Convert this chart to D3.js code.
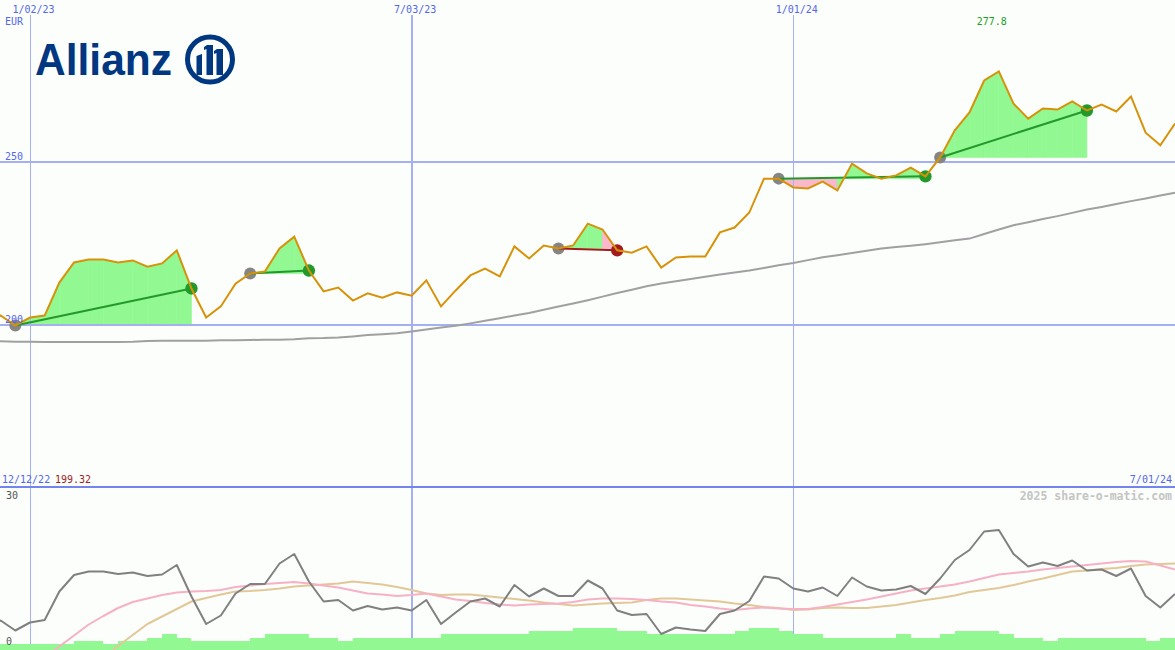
<!DOCTYPE html>
<html><head><meta charset="utf-8">
<script src="https://cdn.jsdelivr.net/npm/d3@7"></script>
<style>html,body{margin:0;padding:0;background:#fbfefb;overflow:hidden}svg{display:block}</style>
</head><body><svg id="c" width="1175" height="650"></svg>
<script>
// ---- data ----
const startDate = "2022-12-12", endDate = "2024-07-01";
const prices = [
  199.32, 202.9, 199.85, 202.3, 202.9, 213.0, 219.2, 220.1, 220.1, 219.2,
  219.8, 217.9, 218.9, 222.9, 211.2, 202.3, 205.7, 212.7, 215.8, 216.4,
  223.5, 227.1, 216.7, 210.3, 211.5, 207.5, 209.7, 208.4, 210.0, 209.0,
  213.7, 205.7, 210.6, 215.2, 217.3, 214.9, 224.1, 220.4, 224.4, 223.5,
  224.4, 231.1, 229.3, 222.9, 222.2, 224.1, 217.6, 220.7, 221.0, 221.0,
  228.4, 229.9, 234.5, 244.9, 244.9, 242.2, 241.9, 244.0, 241.3, 249.5,
  246.5, 244.9, 245.9, 248.3, 245.6, 251.4, 259.7, 265.2, 275.0, 277.8,
  267.9, 263.3, 266.4, 266.1, 268.6, 265.8, 267.6, 265.5, 270.1, 259.0,
  255.1, 261.8];
const movingAvg = [
  195.1, 195.0, 194.9, 194.9, 194.8, 194.8, 194.8, 194.8, 194.8, 194.8,
  194.9, 195.1, 195.2, 195.2, 195.2, 195.2, 195.3, 195.3, 195.4, 195.5,
  195.5, 195.6, 195.9, 196.0, 196.2, 196.5, 196.9, 197.2, 197.5, 198.0,
  198.6, 199.2, 199.8, 200.5, 201.3, 202.1, 202.9, 203.7, 204.7, 205.7,
  206.6, 207.6, 208.7, 209.8, 210.8, 211.9, 212.7, 213.4, 214.1, 214.8,
  215.5, 216.1, 216.7, 217.5, 218.3, 219.0, 219.9, 220.8, 221.4, 222.1,
  222.8, 223.5, 223.9, 224.3, 224.8, 225.4, 226.0, 226.5, 227.9, 229.3,
  230.6, 231.5, 232.5, 233.4, 234.4, 235.4, 236.2, 237.1, 238.0, 238.8,
  239.7, 240.6];
const oscGray = [
  3.5, 4.9, 2.9, 4.5, 5.0, 10.7, 14.0, 14.7, 14.7, 14.2,
  14.5, 13.8, 14.1, 16.0, 9.7, 4.2, 5.9, 10.3, 12.2, 12.2,
  16.3, 18.2, 12.7, 8.7, 9.0, 6.9, 7.8, 7.1, 7.5, 6.9,
  9.0, 4.2, 6.5, 8.7, 9.3, 7.7, 12.0, 9.7, 11.3, 9.8,
  9.8, 12.9, 11.3, 6.9, 6.0, 6.2, 2.2, 3.5, 3.1, 2.8,
  6.2, 6.9, 8.8, 13.7, 13.3, 11.3, 10.7, 11.5, 9.8, 13.5,
  11.7, 10.9, 11.1, 11.8, 10.2, 13.3, 17.0, 19.0, 22.7, 23.0,
  18.2, 15.7, 16.5, 15.8, 16.9, 14.9, 15.1, 13.8, 15.3, 9.8,
  7.5, 10.2];
const oscPink = [
  -11, -9, -7, -4.8, -2.6, -0.3, 1.9, 4.1, 5.8, 7.4,
  8.6, 9.3, 10.0, 10.5, 10.7, 10.8, 11.0, 11.6, 11.9, 12.2,
  12.4, 12.6, 12.3, 11.9, 11.5, 10.9, 10.3, 10.1, 9.8, 10.0,
  10.3, 9.7, 9.1, 8.8, 8.4, 8.1, 7.9, 8.1, 8.2, 8.3,
  8.6, 9.1, 9.3, 9.3, 9.2, 9.0, 8.7, 8.5, 8.0, 7.7,
  7.3, 7.0, 7.3, 7.5, 7.3, 7.2, 7.2, 7.6, 8.1, 8.6,
  9.1, 9.7, 10.3, 10.9, 11.3, 11.7, 12.1, 12.7, 13.4, 14.1,
  14.4, 14.7, 15.1, 15.4, 15.7, 16.0, 16.3, 16.6, 16.8, 16.7,
  15.9, 15.1];
const oscTan = [
  -20, -18, -16, -13.7, -11.5, -9.2, -7, -4.7, -2.5, -0.2,
  2.0, 4.2, 5.7, 7.2, 8.7, 9.4, 10.1, 10.7, 10.8, 11.0,
  11.3, 11.7, 11.9, 12.1, 12.3, 12.7, 12.4, 12.1, 11.6, 11.0,
  10.3, 10.0, 10.1, 10.1, 9.8, 9.5, 9.2, 8.9, 8.5, 8.2,
  7.9, 8.1, 8.3, 8.4, 8.5, 9.0, 9.3, 9.3, 9.1, 8.9,
  8.7, 8.3, 8.0, 7.6, 7.4, 7.0, 7.1, 7.4, 7.5, 7.4,
  7.4, 7.7, 8.0, 8.5, 9.0, 9.4, 9.9, 10.6, 11.0, 11.4,
  12.0, 12.7, 13.3, 14.0, 14.7, 14.9, 15.2, 15.4, 15.8, 16.1,
  16.2, 16.3];
const volume = [
  2, 2, 2, 2, 2, 2, 3, 3, 2, 3,
  3, 4, 5, 4, 3, 3, 3, 3, 4, 5,
  5, 5, 4, 4, 3, 4, 4, 4, 4, 4,
  4, 5, 5, 5, 5, 5, 5, 6, 6, 6,
  7, 7, 7, 6, 6, 5, 5, 5, 5, 5,
  5, 6, 7, 7, 6, 5, 5, 4, 4, 4,
  4, 4, 5, 4, 4, 5, 6, 6, 6, 5,
  4, 4, 3, 4, 4, 4, 4, 4, 4, 3,
  4, 4];
const tickDates = ["2023-01-02", "2023-07-03", "2024-01-01"];
const tickLabels = ["1/02/23", "7/03/23", "1/01/24"];
const priceTicks = [200, 250];
const lowerTicks = [0, 30];
const tradeBuys  = ["2022-12-26", "2023-04-17", "2023-09-11", "2023-12-25", "2024-03-11"];
const tradeSells = ["2023-03-20", "2023-05-15", "2023-10-09", "2024-03-04", "2024-05-20"];

// ---- setup ----
const parse = d3.utcParse("%Y-%m-%d");
const fmt = d3.utcFormat("%-m/%d/%y");
const dates = d3.utcMonday.range(parse(startDate), d3.utcDay.offset(parse(endDate), 1));
const idxOf = s => dates.findIndex(d => +d === +parse(s));

const W = 1175, H = 650;
const x = d3.scaleUtc().domain([parse(startDate), parse(endDate)]).range([-14.04, 1175]);
const y = d3.scaleLinear().domain([200, 250]).range([325, 162]);
const yl = d3.scaleLinear().domain([0, 30]).range([645, 495]);
const yv = d3.scaleLinear().domain([0, 10]).range([650.4, 618.4]);

const C = {
  bg: "#fbfefb", grid: "#a4b0f2", sep: "#7484ee", label: "#5466ee",
  price: "#d8920a", ma: "#a0a0a0", green: "#92f892", pink: "#f9b8cb",
  gline: "#22992a", red: "#a31c1c", gray: "#858585",
  oGray: "#808080", oPink: "#f7b1c6", oTan: "#e2c898", logo: "#003781"
};

const svg = d3.select("#c");
svg.append("rect").attr("width", W).attr("height", H).attr("fill", C.bg);

// ---- trade fills ----
const trades = tradeBuys.map((b, k) => ({ b: idxOf(b), s: idxOf(tradeSells[k]) }));
const gFill = svg.append("g");
trades.forEach(t => {
  const base = prices[t.b];
  for (let k = t.b; k < t.s; k++) {
    const seg = [k, k + 1];
    const col = prices[k + 1] >= base ? C.green : C.pink;
    const area = d3.area().x(i => x(dates[i])).y0(y(base)).y1(i => y(prices[i]));
    gFill.append("path").attr("d", area(seg)).attr("fill", col)
      .attr("stroke", col).attr("stroke-width", 0.6);
  }
});

// ---- grid ----
const gGrid = svg.append("g").attr("shape-rendering", "crispEdges");
priceTicks.forEach(v => {
  gGrid.append("line").attr("x1", 0).attr("x2", W).attr("y1", y(v)).attr("y2", y(v))
    .attr("stroke", C.grid).attr("stroke-width", 2);
});
tickDates.forEach((d, k) => {
  const xx = Math.round(x(parse(d)));
  gGrid.append("line").attr("x1", xx).attr("x2", xx).attr("y1", 15).attr("y2", H)
    .attr("stroke", C.grid).attr("stroke-width", k === 1 ? 2 : 1);
});
gGrid.append("line").attr("x1", 0).attr("x2", W).attr("y1", 486.5).attr("y2", 486.5)
  .attr("stroke", C.sep).attr("stroke-width", 2);

// ---- volume bars ----
const gBars = svg.append("g").attr("shape-rendering", "crispEdges");
volume.forEach((v, i) => {
  const x0 = x(dates[i]), x1 = x(d3.utcMonday.offset(dates[i], 1));
  gBars.append("rect").attr("x", Math.round(x0)).attr("width", Math.round(x1) - Math.round(x0))
    .attr("y", Math.round(yv(v))).attr("height", H - Math.round(yv(v))).attr("fill", C.green);
});

// ---- lower lines ----
const lowLine = arr => d3.line().x((d, i) => x(dates[i])).y(d => yl(d))(arr);
[[oscTan, C.oTan], [oscPink, C.oPink], [oscGray, C.oGray]].forEach(([arr, col]) => {
  svg.append("path").attr("d", lowLine(arr)).attr("fill", "none").attr("stroke", col)
    .attr("stroke-width", 2).attr("stroke-linejoin", "round");
});

// ---- upper lines ----
const upLine = arr => d3.line().x((d, i) => x(dates[i])).y(d => y(d))(arr);
svg.append("path").attr("d", upLine(movingAvg)).attr("fill", "none").attr("stroke", C.ma)
  .attr("stroke-width", 2);

// markers
trades.forEach(t => {
  const win = prices[t.s] >= prices[t.b];
  svg.append("circle").attr("cx", x(dates[t.b])).attr("cy", y(prices[t.b])).attr("r", 6).attr("fill", C.gray);
  svg.append("circle").attr("cx", x(dates[t.s])).attr("cy", y(prices[t.s])).attr("r", 6.2)
    .attr("fill", win ? C.gline : C.red);
});
// trade lines
trades.forEach(t => {
  const win = prices[t.s] >= prices[t.b];
  svg.append("line").attr("x1", x(dates[t.b])).attr("y1", y(prices[t.b]))
    .attr("x2", x(dates[t.s])).attr("y2", y(prices[t.s]))
    .attr("stroke", win ? C.gline : C.red).attr("stroke-width", 2);
});
svg.append("path").attr("d", upLine(prices)).attr("fill", "none").attr("stroke", C.price)
  .attr("stroke-width", 2).attr("stroke-linejoin", "miter");

// ---- labels ----
const mono = "'DejaVu Sans Mono', 'Liberation Mono', monospace";
const txt = (s, xx, yy, col, anchor, size, weight) => svg.append("text").text(s)
  .attr("x", xx).attr("y", yy).attr("fill", col).attr("text-anchor", anchor || "start")
  .attr("font-family", mono).attr("font-size", size || 10).attr("font-weight", weight || "normal");

tickDates.forEach((d, k) => txt(tickLabels[k], x(parse(d)) + 3.5, 13, C.label, "middle"));
txt("EUR", 5, 25, C.label);
priceTicks.forEach(v => txt(String(v), 5, y(v) - 2, C.label));
const maxI = d3.maxIndex(prices);
txt(d3.format(".1f")(prices[maxI]), x(dates[maxI]) - 7, 25, "#22a022", "middle");
txt(fmt(dates[0]), 2, 483, C.label);
txt(d3.format(".2f")(prices[0]), 55, 483, C.red);
txt(fmt(dates[dates.length - 1]), 1172, 483, C.label, "end");
lowerTicks.forEach(v => txt(String(v), 6, v === 0 ? yl(v) : yl(v) + 4, "#555555"));
txt("2025 share-o-matic.com", 1172, 500, "#c4c4c4", "end", 11.5, "bold");

// ---- logo ----
const logo = svg.append("g");
logo.append("text").text("Allianz").attr("x", 35).attr("y", 75)
  .attr("font-family", "'Liberation Sans', Arial, sans-serif").attr("font-weight", "bold")
  .attr("font-size", 45).attr("textLength", 137).attr("lengthAdjust", "spacingAndGlyphs")
  .attr("fill", C.logo);
logo.append("circle").attr("cx", 210).attr("cy", 59.5).attr("r", 22.5)
  .attr("fill", "none").attr("stroke", C.logo).attr("stroke-width", 5);
logo.append("path").attr("fill", C.logo)
  .attr("d", "M196.5,56 L202,54 L202,75 L196.5,75 Z " +
             "M204,47 L207,45 L213,45 L213,75 L206.5,75 L206.5,49 L204,50 Z " +
             "M214,51 L217,49 L223,49 L223,75 L216.5,75 L216.5,53 L214,54 Z");
</script></body></html>
